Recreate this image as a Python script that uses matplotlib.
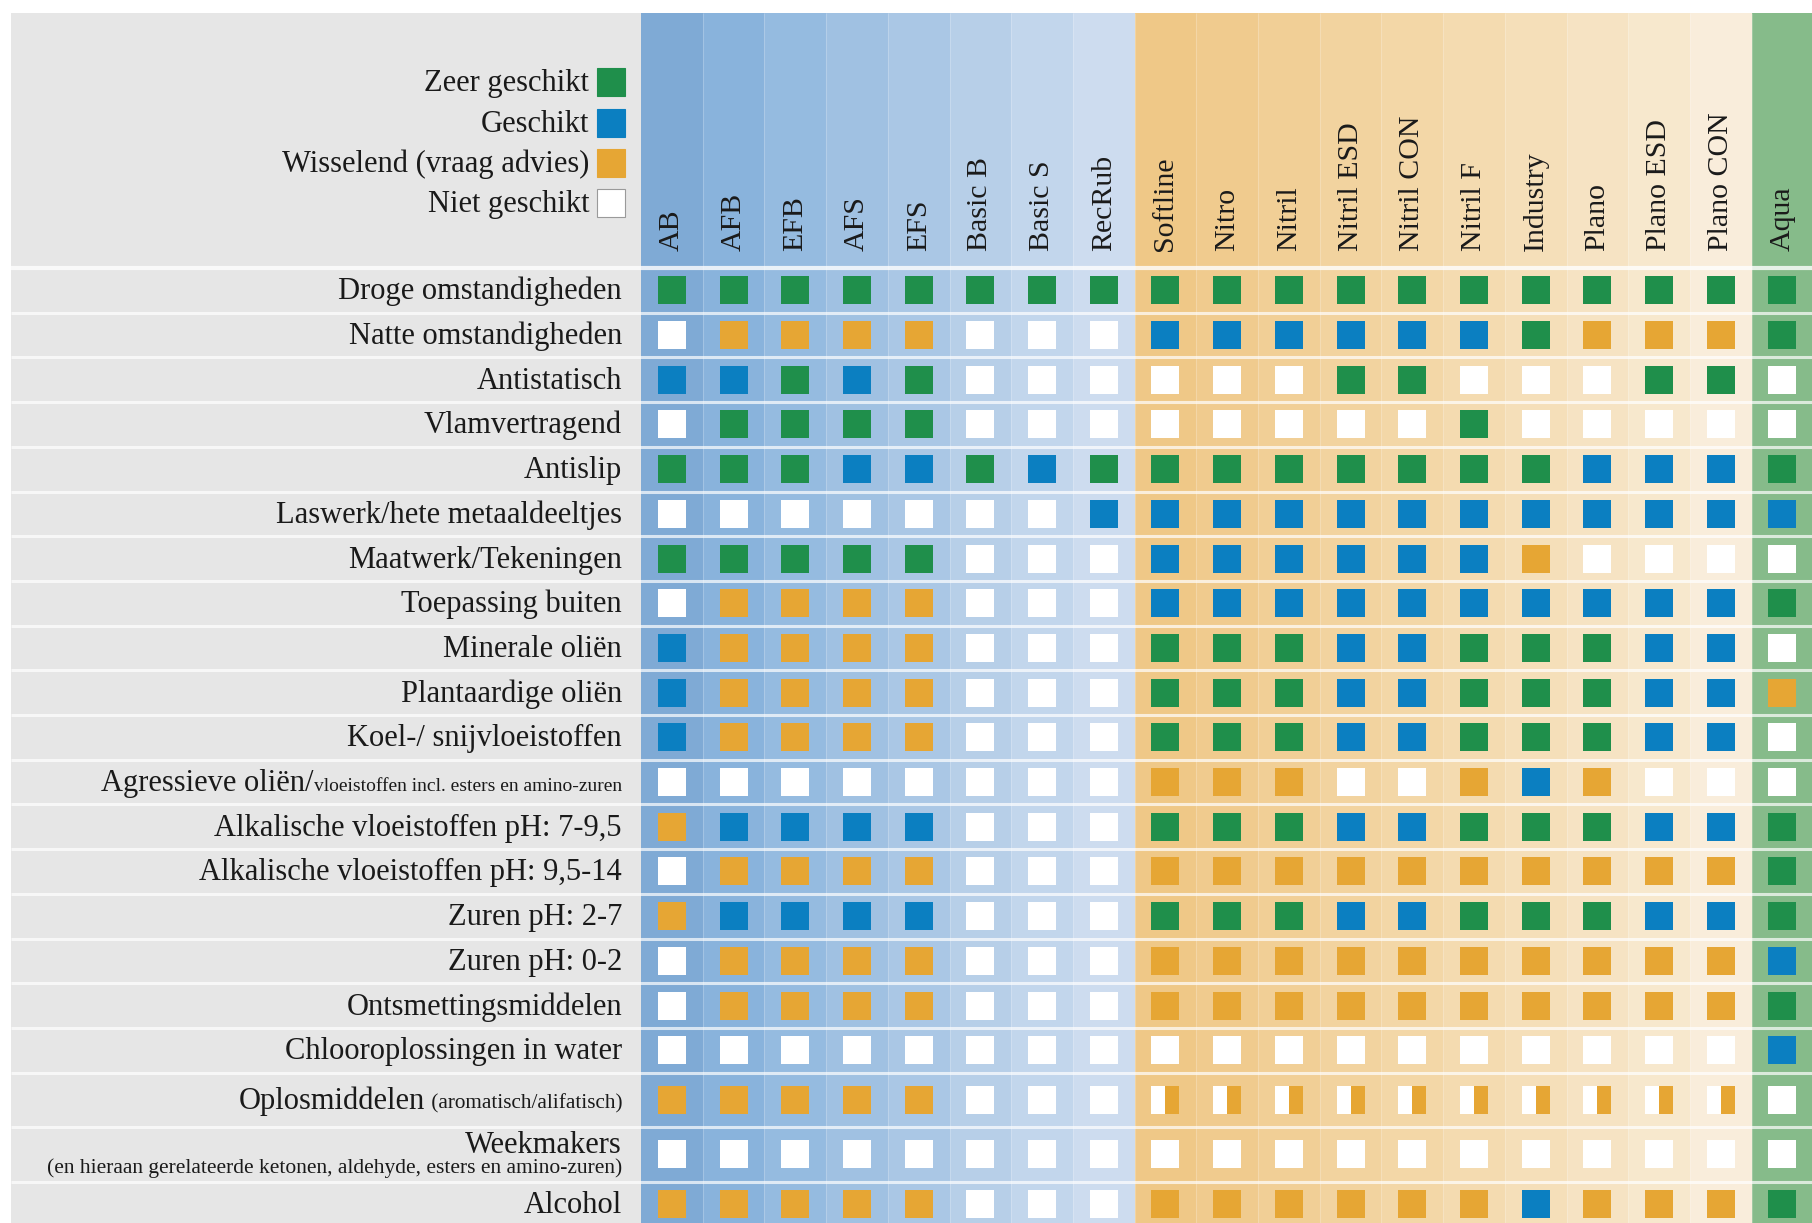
import matplotlib.pyplot as plt
import numpy as np

plt.rcParams['font.family'] = ['Liberation Serif', 'DejaVu Serif']

# kolommen (producten)
products = ["AB", "AFB", "EFB", "AFS", "EFS", "Basic B", "Basic S", "RecRub",
            "Softline", "Nitro", "Nitril", "Nitril ESD", "Nitril CON", "Nitril F",
            "Industry", "Plano", "Plano ESD", "Plano CON", "Aqua"]

# rijen (toepassingen)
criteria = ["Droge omstandigheden", "Natte omstandigheden", "Antistatisch",
            "Vlamvertragend", "Antislip", "Laswerk/hete metaaldeeltjes",
            "Maatwerk/Tekeningen", "Toepassing buiten", "Minerale oliën",
            "Plantaardige oliën", "Koel-/ snijvloeistoffen", "Agressieve oliën/",
            "Alkalische vloeistoffen pH: 7-9,5", "Alkalische vloeistoffen pH: 9,5-14",
            "Zuren pH: 2-7", "Zuren pH: 0-2", "Ontsmettingsmiddelen",
            "Chlooroplossingen in water", "Oplosmiddelen", "Weekmakers", "Alcohol"]

# kleine toevoegingen achter / onder het label
notes_inline = {11: "vloeistoffen incl. esters en amino-zuren",
                18: " (aromatisch/alifatisch)"}
notes_below = {19: "(en hieraan gerelateerde ketonen, aldehyde, esters en amino-zuren)"}
note_size = {11: 14, 18: 15.3, 19: 15.5}

# G = zeer geschikt, B = geschikt, O = wisselend, W = niet geschikt, S = wit/oranje
ratings = [
    "GGGGGGGG GGGGGGGGGG G",
    "WOOOOWWW BBBBBBGOOO G",
    "BBGBGWWW WWWGGWWWGG W",
    "WGGGGWWW WWWWWGWWWW W",
    "GGGBBGBG GGGGGGGBBB G",
    "WWWWWWWB BBBBBBBBBB B",
    "GGGGGWWW BBBBBBOWWW W",
    "WOOOOWWW BBBBBBBBBB G",
    "BOOOOWWW GGGBBGGGBB W",
    "BOOOOWWW GGGBBGGGBB O",
    "BOOOOWWW GGGBBGGGBB W",
    "WWWWWWWW OOOWWOBOWW W",
    "OBBBBWWW GGGBBGGGBB G",
    "WOOOOWWW OOOOOOOOOO G",
    "OBBBBWWW GGGBBGGGBB G",
    "WOOOOWWW OOOOOOOOOO B",
    "WOOOOWWW OOOOOOOOOO G",
    "WWWWWWWW WWWWWWWWWW B",
    "OOOOOWWW SSSSSSSSSS W",
    "WWWWWWWW WWWWWWWWWW W",
    "OOOOOWWW OOOOOOBOOO G",
]
ratings = np.array([list(r.replace(" ", "")) for r in ratings])

legend_labels = ["Zeer geschikt", "Geschikt", "Wisselend (vraag advies)", "Niet geschikt"]
legend_codes = ["G", "B", "O", "W"]

# stijl
square_colors = {"G": "#1f8f4b", "B": "#0b7fc1", "O": "#e6a634", "W": "#ffffff"}
col_colors = ["#7faad5", "#89b3dc", "#95bbe0", "#a0c1e2", "#aac7e5", "#b7cfe8",
              "#c2d6ec", "#cddcef",
              "#efc887", "#f0cb8e", "#f1cf96", "#f2d39f", "#f3d7a7", "#f4dbb0",
              "#f5dfb9", "#f6e3c3", "#f7e8cd", "#f9eddb",
              "#86bb8a"]
gray = "#e6e6e6"
ink = "#1a1a1a"

W_PX, H_PX = 1812, 1223
GRID_X0, HEAD_BOT = 641, 268
COL_W, ROW_H = 61.7, 44.7
SQ = 28


def ux(px):
    return (px - GRID_X0) / COL_W


def uy(px):
    return (px - HEAD_BOT) / ROW_H


row_h = np.array([1.0] * 18 + [1.22, 1.22, 1.0])
row_top = np.concatenate([[0], np.cumsum(row_h)[:-1]])
row_mid = row_top + row_h / 2
sq_w, sq_h = SQ / COL_W, SQ / ROW_H

fig = plt.figure(figsize=(W_PX / 100, H_PX / 100), dpi=100)
ax = fig.add_axes([0, 0, 1, 1])
ax.set_xlim(ux(0), ux(W_PX))
ax.set_ylim(uy(H_PX), uy(0))
ax.axis("off")

top, bottom = uy(13), uy(H_PX)

# achtergronden
ax.bar(ux(11), bottom - top, width=-ux(11), bottom=top, align="edge", color=gray, lw=0)
ax.bar(np.arange(len(products)), bottom - top, width=1, bottom=top, align="edge",
       color=col_colors, lw=0)
ax.vlines(np.arange(1, len(products)), top, bottom, color="white", alpha=0.22, lw=0.8)

# rijscheiding
bounds = np.concatenate([[0], np.cumsum(row_h)])
ax.hlines(bounds[1:], ux(11), ux(W_PX), color="white", alpha=0.7, lw=2.2)
ax.hlines([0], ux(11), ux(W_PX), color="white", alpha=0.8, lw=3)

# blokjes
for code in "GBOW":
    ys, xs = np.where(ratings == code)
    ax.bar(xs + 0.5, sq_h, width=sq_w, bottom=row_mid[ys] - sq_h / 2,
           color=square_colors[code], lw=0)
ys, xs = np.where(ratings == "S")
ax.bar(xs + 0.5 - sq_w / 4, sq_h, width=sq_w / 2, bottom=row_mid[ys] - sq_h / 2,
       color=square_colors["W"], lw=0)
ax.bar(xs + 0.5 + sq_w / 4, sq_h, width=sq_w / 2, bottom=row_mid[ys] - sq_h / 2,
       color=square_colors["O"], lw=0)

# kolomkoppen
for i, name in enumerate(products):
    ax.text(i + 0.5, uy(251), name, rotation=90, ha="center", va="bottom",
            fontsize=21.5, color=ink)

# rijlabels
label_x = ux(622)
for i, name in enumerate(criteria):
    base = row_mid[i] + 9 / ROW_H
    if i in notes_inline:
        small = ax.text(label_x, base, notes_inline[i], ha="right", va="baseline",
                        fontsize=note_size[i], color=ink)
        ax.annotate(name, xy=(0, base), xycoords=(small, "data"), ha="right",
                    va="baseline", fontsize=22, color=ink)
    elif i in notes_below:
        ax.text(label_x, row_mid[i] - 1.5 / ROW_H, name, ha="right", va="baseline",
                fontsize=22, color=ink)
        ax.text(label_x, row_mid[i] + 18.5 / ROW_H, notes_below[i], ha="right",
                va="baseline", fontsize=note_size[i], color=ink)
    else:
        ax.text(label_x, base, name, ha="right", va="baseline", fontsize=22,
                color=ink)

# legenda
leg_y = uy(np.array([82, 122.5, 163, 203]))
for y, lab, code in zip(leg_y, legend_labels, legend_codes):
    edge = "#9a9a9a" if code == "W" else square_colors[code]
    ax.bar(ux(611), sq_h, width=sq_w, bottom=y - sq_h / 2,
           color=square_colors[code], edgecolor=edge, lw=0.8)
    ax.text(ux(589), y + 9 / ROW_H, lab, ha="right", va="baseline", fontsize=22,
            color=ink)

fig.savefig("out.png", dpi=100)
